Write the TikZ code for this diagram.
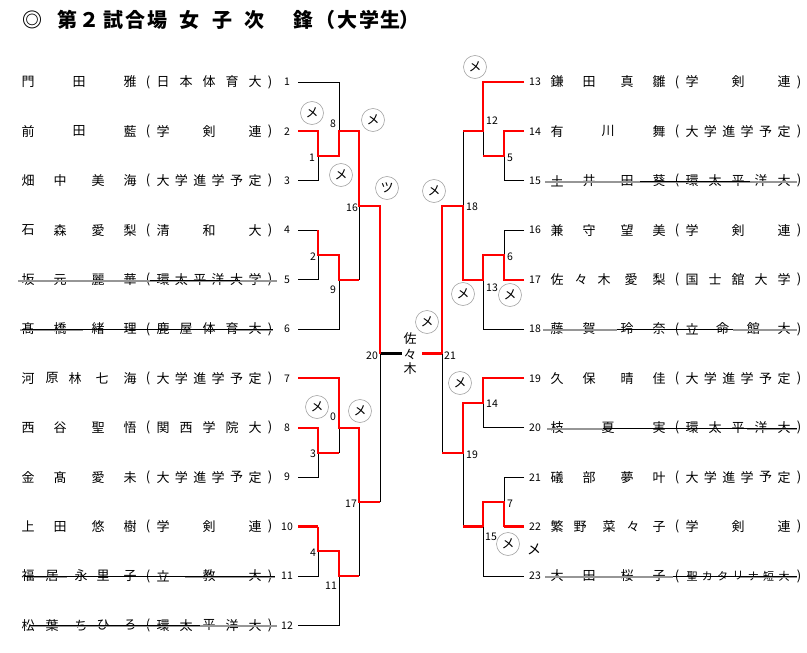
\documentclass[tikz,border=0pt]{standalone}
\usepackage{fontspec}
\setmainfont{Noto Sans CJK JP}
\usetikzlibrary{positioning}
\definecolor{winred}{RGB}{255,0,0}
\definecolor{strikegray}{RGB}{150,150,150}
\tikzset{
	bline/.style={line width=0.8pt, black},
	bthick/.style={line width=2.5pt, black},
	rline/.style={line width=2pt, winred},
	rthick/.style={line width=3.5pt, winred},
	txt/.style={inner sep=0pt, font=\fontsize{13}{13}\selectfont},
	smalltxt/.style={inner sep=0pt, font=\fontsize{11}{11}\selectfont},
	num/.style={inner sep=0pt, font=\fontsize{10.5}{10.5}\selectfont},
	waza/.style={circle, draw=gray!70, line width=0.6pt, fill=white, minimum size=23pt, inner sep=0pt, font=\fontsize{13}{13}\selectfont},
	strk/.style={line width=1.6pt, strikegray},
	strkb/.style={line width=0.6pt, black}
}

\begin{document}
\begin{tikzpicture}[x=1pt, y=-1pt]
	\useasboundingbox (0,0) rectangle (807,653);
	\fill[white] (0,0) rectangle (807,653);
	
	% Title
	\foreach \x/\ch [count=\i] in {33/◎,67/第,89/２,113/試,135/合,157/場,189/女,222/子,254/次,303/鋒,325/（,347/大,369/学,390/生,409/）}
		\node[inner sep=0pt, font=\fontsize{20}{20}\selectfont\bfseries] (title\i) at (\x,20) {\ch};
	
	% Player numbers and line ends
	\foreach \i in {1,...,12} {
		\node[num] (n\i) at (287,{82+(\i-1)*49.4}) {\i};
		\coordinate (p\i) at (298,{82+(\i-1)*49.4});
	}
	\foreach \i in {13,...,23} {
		\node[num] (n\i) at (535,{82+(\i-13)*49.4}) {\i};
		\coordinate (p\i) at (524,{82+(\i-13)*49.4});
	}
	
	% Names (affiliation)
	\foreach \r/\nm/\n/\af/\st in {
		1/{28/門,79/田,130/雅}/5/{日,本,体,育,大}/txt,
		2/{28/前,79/田,130/藍}/3/{学,剣,連}/txt,
		3/{28/畑,60/中,98/美,130/海}/6/{大,学,進,学,予,定}/txt,
		4/{28/石,60/森,98/愛,130/梨}/3/{清,和,大}/txt,
		5/{28/坂,60/元,98/麗,130/華}/6/{環,太,平,洋,大,学}/txt,
		6/{28/髙,60/橋,98/緒,130/理}/5/{鹿,屋,体,育,大}/txt,
		7/{28/河,52/原,75/林,102/七,130/海}/6/{大,学,進,学,予,定}/txt,
		8/{28/西,60/谷,98/聖,130/悟}/5/{関,西,学,院,大}/txt,
		9/{28/金,60/髙,98/愛,130/未}/6/{大,学,進,学,予,定}/txt,
		10/{28/上,60/田,98/悠,130/樹}/3/{学,剣,連}/txt,
		11/{28/福,52/居,81/永,103/里,130/子}/3/{立,教,大}/txt,
		12/{28/松,52/葉,81/ち,103/ひ,130/ろ}/5/{環,太,平,洋,大}/txt,
		13/{28/鎌,60/田,98/真,130/雛}/3/{学,剣,連}/txt,
		14/{28/有,79/川,130/舞}/6/{大,学,進,学,予,定}/txt,
		15/{28/土,60/井,98/田,130/葵}/5/{環,太,平,洋,大}/txt,
		16/{28/兼,60/守,98/望,130/美}/3/{学,剣,連}/txt,
		17/{28/佐,52/々,75/木,102/愛,130/梨}/5/{国,士,舘,大,学}/txt,
		18/{28/藤,60/賀,98/玲,130/奈}/4/{立,命,館,大}/txt,
		19/{28/久,60/保,98/晴,130/佳}/6/{大,学,進,学,予,定}/txt,
		20/{28/枝,79/夏,130/実}/5/{環,太,平,洋,大}/txt,
		21/{28/礒,60/部,98/夢,130/叶}/6/{大,学,進,学,予,定}/txt,
		22/{28/繁,51/野,80/菜,104/々,130/子}/3/{学,剣,連}/txt,
		23/{28/大,60/田,98/桜,130/子}/7/{聖,カ,タ,リ,ナ,短,大}/smalltxt} {
		\pgfmathsetmacro{\yy}{82+mod(\r-1,12)*49.4}
		\pgfmathsetmacro{\xs}{(\r>12)*529}
		\foreach \px/\ch [count=\k] in \nm
			\node[txt] (nm\r-\k) at ({\xs+\px},\yy) {\ch};
		\node[txt] (op\r) at ({\xs+148},\yy) {(};
		\foreach \ch [count=\k] in \af
			\node[\st] (af\r-\k) at ({\xs+163+(\k-1)*92/(\n-1)},\yy) {\ch};
		\node[txt] (cp\r) at ({\xs+270},\yy) {)};
	}
	
	% Strike lines
	\foreach \a/\b/\y in {18/277/281, 20/83/330, 233/273/330, 33/67/577, 185/275/577, 30/277/626,
		545/797/182, 543/617/330, 733/797/330, 547/603/429, 747/797/429, 545/673/577, 740/797/577}
		\draw[strk] (\a,\y) -- (\b,\y);
	\foreach \a/\b/\y in {150/240/280, 22/273/329, 25/275/576, 30/200/625,
		640/750/181, 617/733/329, 603/797/428, 673/797/576}
		\draw[strkb] (\a,\y) -- (\b,\y);
	
	% Match points
	\coordinate (m1) at (318,156.1);
	\coordinate (m8) at (339,131.4);
	\coordinate (m2) at (318,254.9);
	\coordinate (m9) at (339,279.6);
	\coordinate (m16) at (359,205.5);
	\coordinate (m3) at (318,452.5);
	\coordinate (m0) at (339,427.8);
	\coordinate (m4) at (318,551.3);
	\coordinate (m11) at (339,576);
	\coordinate (m17) at (359,502);
	\coordinate (m20) at (380,353.7);
	\coordinate (m5) at (504,156.1);
	\coordinate (m12) at (483,131.4);
	\coordinate (m6) at (504,254.9);
	\coordinate (m13) at (483,279.6);
	\coordinate (m18) at (463,205.5);
	\coordinate (m14) at (483,403.1);
	\coordinate (m7) at (504,502);
	\coordinate (m15) at (483,526.6);
	\coordinate (m19) at (463,452.5);
	\coordinate (m21) at (442,353.7);
	\coordinate (fL) at (402,353.7);
	\coordinate (fR) at (422,353.7);
	
	% Left bracket
	\draw[bline] (p1) -| (m8);
	\draw[bline] (p3) -| (m1);
	\draw[bline] (p4) -- (p4 -| m1);
	\draw[bline] (p5) -| (m2);
	\draw[bline] (p6) -| (m9);
	\draw[bline] (m9 -| m16) -- (m16);
	\draw[bline] (p9) -| (m3);
	\draw[bline] (m3 -| m0) -- (m0);
	\draw[bline] (p11) -| (m4);
	\draw[bline] (p12) -| (m11);
	\draw[bline] (m11 -| m17) -- (m17);
	\draw[bline] (m17 -| m20) -- (m20);
	\draw[bthick] (m20) -- (fL);
	\draw[rline] (p2) -| (m1) -- (m1 -| m8) -- (m8) -| (m16) -| (m20);
	\draw[rline] (p4 -| m1) -- (m2) -- (m2 -| m9) -- (m9) -- (m9 -| m16);
	\draw[rline] (p7) -| (m0) -| (m17) -- (m17 -| m20);
	\draw[rline] (p8) -| (m3) -- (m3 -| m0);
	\draw[rthick] (p10) -- (p10 -| m4);
	\draw[rline] (p10 -| m4) -- (m4) -- (m4 -| m11) -- (m11) -- (m11 -| m17);
	
	% Right bracket
	\draw[bline] (p15) -| (m5);
	\draw[bline] (m5 -| m12) -- (m12);
	\draw[bline] (m12 -| m18) -- (m18);
	\draw[bline] (p16) -| (m6);
	\draw[bline] (p18) -| (m13);
	\draw[bline] (p20) -| (m14);
	\draw[bline] (m19 -| m21) -- (m21);
	\draw[bline] (p21) -| (m7);
	\draw[bline] (m15 -| m19) -- (m19);
	\draw[bline] (p23) -| (m15);
	\draw[rline] (p13) -| (m12) -- (m12 -| m18);
	\draw[rline] (p14) -| (m5) -- (m5 -| m12);
	\draw[rline] (p17) -| (m6) -- (m6 -| m13) -- (m13) -| (m18) -| (m21);
	\draw[rthick] (m21) -- (fR);
	\draw[rline] (p19) -| (m14) -| (m19) -- (m19 -| m21);
	\draw[rthick] (p22) -- (p22 -| m7);
	\draw[rline] (p22 -| m7) -- (m7) -- (m7 -| m15) -- (m15);
	\draw[rthick] (m15) -- (m15 -| m19);
	
	% Match numbers
	\foreach \t/\x/\y in {8/333/124, 1/312/158, 16/352/208, 2/313/257, 9/333/290, 0/333/417, 3/313/454,
		17/351/504, 4/313/553, 11/331/586, 20/372/356, 12/492/121, 5/510/158, 18/472/207, 6/510/257,
		13/492/288, 21/450/356, 14/492/404, 19/472/455, 7/510/504, 15/491/537}
		\node[num] (g\t) at (\x,\y) {\t};
	
	% Winner
	\foreach \ch [count=\i] in {佐,々,木}
		\node[txt] (win\i) at (410,{324+15*\i}) {\ch};
	
	% Points
	\foreach \x/\y/\k [count=\i] in {312/113/メ, 373/120/メ, 341/175/メ, 387/188/ツ, 317/407/メ, 360/411/メ,
		427/322/メ, 475/67/メ, 434/191/メ, 463/294/メ, 510/295/メ, 460/383/メ, 508/544/メ}
		\node[waza] (w\i) at (\x,\y) {\k};
	\node[inner sep=0pt, font=\fontsize{14}{14}\selectfont] (extra) at (534,549) {メ};
	
\end{tikzpicture}
\end{document}
